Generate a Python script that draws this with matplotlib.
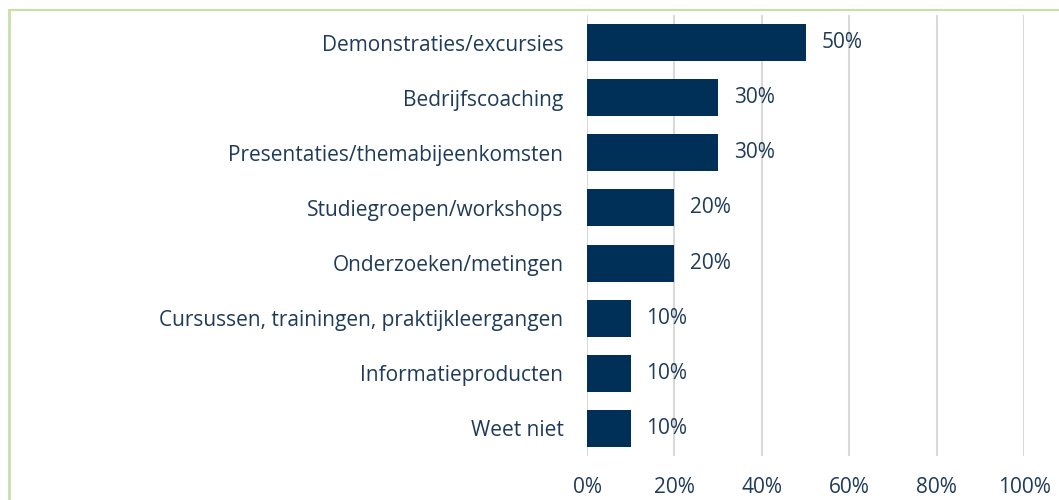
import matplotlib
matplotlib.use("Agg")
import matplotlib.pyplot as plt
from matplotlib.lines import Line2D

categories = [
    "Demonstraties/excursies",
    "Bedrijfscoaching",
    "Presentaties/themabijeenkomsten",
    "Studiegroepen/workshops",
    "Onderzoeken/metingen",
    "Cursussen, trainingen, praktijkleergangen",
    "Informatieproducten",
    "Weet niet",
]
values = [50, 30, 30, 20, 20, 10, 10, 10]
xticks = [0, 20, 40, 60, 80, 100]

bar_color = "#003057"
text_color = "#1F3B5A"
fs = 15

plt.rcParams["font.family"] = ["Open Sans", "DejaVu Sans"]

fig = plt.figure(figsize=(10.59, 5.0), dpi=100)
ax = fig.add_axes([587 / 1059, 1 - 456 / 500, (1024 - 587) / 1059, (456 - 15) / 500])

pos = list(range(len(categories)))
ax.barh(pos, values, height=0.67, color=bar_color, zorder=3)
for p, v in zip(pos, values):
    ax.text(v + 3.6, p, f"{v}%", va="center", ha="left", fontsize=fs, color=text_color, zorder=4)

ax.set_xlim(0, 100)
ax.set_ylim(len(categories) - 0.5, -0.5)
ax.set_yticks(pos)
ax.set_yticklabels(categories, fontsize=fs, color=text_color)
ax.set_xticks(xticks)
ax.set_xticklabels([f"{t}%" for t in xticks], fontsize=fs, color=text_color)
ax.tick_params(axis="both", length=0)
ax.tick_params(axis="y", pad=17)
ax.tick_params(axis="x", pad=15)
ax.grid(axis="x", color="#D9D9D9", linewidth=1.5, zorder=0)
for s in ax.spines.values():
    s.set_visible(False)

# green frame (partly cropped in the original)
fig.add_artist(Line2D([8.5 / 1059, 8.5 / 1059], [0, 1 - 10 / 500], transform=fig.transFigure, color="#C9DFAA", lw=2))
fig.add_artist(Line2D([8.5 / 1059, 1], [1 - 10 / 500, 1 - 10 / 500], transform=fig.transFigure, color="#C9DFAA", lw=1.5))

fig.savefig("out.png", dpi=100)
